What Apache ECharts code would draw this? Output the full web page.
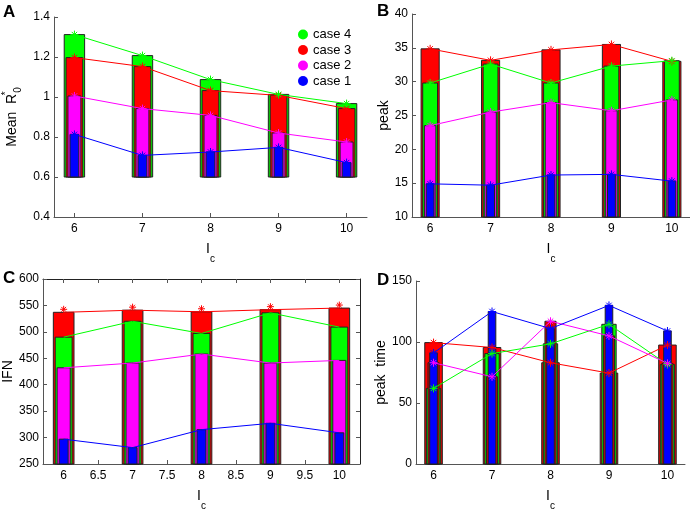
<!DOCTYPE html>
<html>
<head>
<meta charset="utf-8">
<script src="https://cdn.jsdelivr.net/npm/echarts@6/dist/echarts.min.js"></script>
<style>html,body{margin:0;padding:0;background:#fff}#c{width:690px;height:512px}</style>
</head>
<body>
<div id="c"></div>
<script>
// ---------- data ----------
const lc = [6, 7, 8, 9, 10];
const xTicksMain = [6, 7, 8, 9, 10];
const xTicksC = [6, 6.5, 7, 7.5, 8, 8.5, 9, 9.5, 10];
const caseNames = ['case 1', 'case 2', 'case 3', 'case 4'];

// Panel A: Mean R*0
const meanR_case1 = [0.813, 0.708, 0.725, 0.748, 0.672];
const meanR_case2 = [1.005, 0.942, 0.908, 0.820, 0.775];
const meanR_case3 = [1.197, 1.152, 1.032, 1.008, 0.942];
const meanR_case4 = [1.312, 1.207, 1.087, 1.013, 0.967];

// Panel B: peak
const peak_case1 = [14.9, 14.7, 16.2, 16.3, 15.3];
const peak_case2 = [23.5, 25.5, 26.9, 25.7, 27.3];
const peak_case3 = [34.85, 33.15, 34.7, 35.5, 33.0];
const peak_case4 = [29.8, 32.6, 29.8, 32.3, 33.1];

// Panel C: IFN
const ifn_case1 = [297, 281, 315, 327, 309];
const ifn_case2 = [432, 441, 458, 441, 446];
const ifn_case3 = [537, 541, 538, 542, 545];
const ifn_case4 = [490, 520, 497, 536, 509];

// Panel D: peak time
const ptime_case1 = [91, 125, 111, 130, 109];
const ptime_case2 = [83, 71.5, 117, 105, 82.5];
const ptime_case3 = [99.5, 95.5, 83, 74.5, 97.5];
const ptime_case4 = [62, 90.5, 98.5, 114.5, 81.5];

// ---------- styles ----------
const FONT = "'Liberation Sans Narrow', 'Liberation Sans', Arial, sans-serif";
const colors = {'case 1': '#0000ff', 'case 2': '#ff00ff', 'case 3': '#ff0000', 'case 4': '#00ff00'};
const layerWidths = [0.30, 0.245, 0.19, 0.13];
const axisColor = '#555';

const panels = [
  {label: 'A', labelPos: [3, 4],
   grid: {left: 41, top: 17, width: 326, height: 200},
   y: {min: 0.4, max: 1.4, interval: 0.2}, base: 0.6,
   xticks: xTicksMain,
   yName: '{a|Mean  R}{sup|*}{sub|0}', yGap: 31,
   data: {'case 1': meanR_case1, 'case 2': meanR_case2, 'case 3': meanR_case3, 'case 4': meanR_case4},
   order: ['case 4', 'case 3', 'case 2', 'case 1'], box: false, stars: 'all'},
  {label: 'B', labelPos: [377, 3],
   grid: {left: 412, top: 14, width: 278, height: 203},
   y: {min: 10, max: 40, interval: 5}, base: 10,
   xticks: xTicksMain,
   yName: '{a|peak}', yGap: 17,
   data: {'case 1': peak_case1, 'case 2': peak_case2, 'case 3': peak_case3, 'case 4': peak_case4},
   order: ['case 3', 'case 4', 'case 2', 'case 1'], box: false, stars: 'all'},
  {label: 'C', labelPos: [3, 270],
   grid: {left: 43, top: 279, width: 317, height: 188},
   y: {min: 250, max: 600, interval: 50}, base: 250,
   xticks: xTicksC,
   yName: '{a|IFN}', yGap: 23,
   data: {'case 1': ifn_case1, 'case 2': ifn_case2, 'case 3': ifn_case3, 'case 4': ifn_case4},
   order: ['case 3', 'case 4', 'case 2', 'case 1'], box: true, stars: 'red'},
  {label: 'D', labelPos: [377, 272],
   grid: {left: 416, top: 281, width: 269, height: 186},
   y: {min: 0, max: 150, interval: 50}, base: 0,
   xticks: xTicksMain,
   yName: '{a|peak  time}', yGap: 24,
   data: {'case 1': ptime_case1, 'case 2': ptime_case2, 'case 3': ptime_case3, 'case 4': ptime_case4},
   order: ['case 3', 'case 4', 'case 2', 'case 1'], box: false, stars: 'all',
   fillOverride: {'case 2': '#e00000'}}
];

const starPath = 'path://M5,0L5,10M0,5L10,5M1.6,1.6L8.4,8.4M1.6,8.4L8.4,1.6';

const grids = [], xAxes = [], yAxes = [], series = [], graphics = [];

panels.forEach((p, i) => {
  grids.push(Object.assign({containLabel: false}, p.grid));
  const xIdx = xAxes.length, yIdx = yAxes.length;
  xAxes.push({
    type: 'value', gridIndex: i, min: 5.7, max: 10.3,
    axisLine: {show: true, lineStyle: {color: axisColor, width: 1}},
    axisTick: {show: true, inside: true, length: 4, customValues: p.xticks, lineStyle: {color: axisColor}},
    axisLabel: {show: true, customValues: p.xticks, color: '#000', fontSize: 12, fontFamily: FONT, margin: 6},
    splitLine: {show: false},
    name: '{i|I}{c|c}', nameLocation: 'middle', nameGap: 25,
    nameTextStyle: {rich: {
      i: {fontSize: 14, fontFamily: FONT, color: '#000', lineHeight: 22, verticalAlign: 'top'},
      c: {fontSize: 10, fontFamily: FONT, color: '#000', lineHeight: 22, verticalAlign: 'bottom'}
    }}
  });
  yAxes.push({
    type: 'value', gridIndex: i, min: p.y.min, max: p.y.max, interval: p.y.interval,
    axisLine: {show: true, lineStyle: {color: axisColor, width: 1}},
    axisTick: {show: true, inside: true, length: 4, lineStyle: {color: axisColor}},
    axisLabel: {show: true, color: '#000', fontSize: 12, fontFamily: FONT, margin: 4},
    splitLine: {show: false},
    name: p.yName, nameLocation: 'middle', nameGap: p.yGap, nameRotate: 90,
    nameTextStyle: {rich: {
      a: {fontSize: 14, fontFamily: FONT, color: '#000', lineHeight: 22},
      sup: {fontSize: 10, fontFamily: FONT, color: '#000', lineHeight: 22, verticalAlign: 'top', width: 1},
      sub: {fontSize: 10, fontFamily: FONT, color: '#000', lineHeight: 22, verticalAlign: 'bottom'}
    }}
  });
  if (p.box) {
    xAxes.push({
      type: 'value', gridIndex: i, min: 5.7, max: 10.3, position: 'top',
      axisLine: {show: true, lineStyle: {color: '#222', width: 1}},
      axisTick: {show: true, inside: true, length: 4, customValues: p.xticks, lineStyle: {color: axisColor}},
      axisLabel: {show: false}, splitLine: {show: false}
    });
    yAxes.push({
      type: 'value', gridIndex: i, min: p.y.min, max: p.y.max, interval: p.y.interval, position: 'right',
      axisLine: {show: true, lineStyle: {color: '#222', width: 1}},
      axisTick: {show: true, inside: true, length: 4, lineStyle: {color: axisColor}},
      axisLabel: {show: false}, splitLine: {show: false}
    });
  }
  // bars, widest first
  p.order.forEach((name, layer) => {
    const w = layerWidths[layer];
    const base = p.base;
    const fill = (p.fillOverride && p.fillOverride[name]) || colors[name];
    series.push({
      type: 'custom', name: name, xAxisIndex: xIdx, yAxisIndex: yIdx, z: 2,
      itemStyle: {color: colors[name]},
      data: lc.map((x, k) => [x, p.data[name][k]]),
      renderItem: function (params, api) {
        const x = api.value(0), v = api.value(1);
        const p1 = api.coord([x - w / 2, base]);
        const p2 = api.coord([x + w / 2, v]);
        return {
          type: 'rect',
          shape: {x: p1[0], y: p2[1], width: p2[0] - p1[0], height: p1[1] - p2[1]},
          style: {fill: fill, stroke: '#222', lineWidth: 1}
        };
      }
    });
  });
  // lines
  ['case 3', 'case 4', 'case 2', 'case 1'].forEach(name => {
    const withStar = p.stars === 'all' || (p.stars === 'red' && name === 'case 3');
    series.push({
      type: 'line', name: name, xAxisIndex: xIdx, yAxisIndex: yIdx, z: 3,
      data: lc.map((x, k) => [x, p.data[name][k]]),
      symbol: withStar ? starPath : 'none', symbolSize: p.stars === 'red' ? 7 : 8,
      symbolOffset: p.stars === 'red' ? [0, -3] : [0, 0],
      showSymbol: withStar,
      itemStyle: {color: colors[name], borderColor: colors[name], borderWidth: 1},
      lineStyle: {color: colors[name], width: 1},
      animation: false
    });
  });
  graphics.push({
    type: 'text', left: p.labelPos[0], top: p.labelPos[1],
    style: {text: p.label, fontSize: 17, fontWeight: 'bold', fontFamily: "'Liberation Sans', Arial, sans-serif", fill: '#000'}
  });
});

const chart = echarts.init(document.getElementById('c'), null, {renderer: 'canvas'});
chart.setOption({
  animation: false,
  backgroundColor: '#fff',
  grid: grids,
  xAxis: xAxes,
  yAxis: yAxes,
  legend: {
    left: 293, top: 23, orient: 'vertical', icon: 'circle',
    itemWidth: 10, itemHeight: 10, itemGap: 2.5,
    textStyle: {fontSize: 13, fontFamily: FONT, color: '#000'},
    data: ['case 4', 'case 3', 'case 2', 'case 1'].map(n => ({name: n, itemStyle: {color: colors[n]}}))
  },
  graphic: graphics,
  series: series
});
</script>
</body>
</html>
